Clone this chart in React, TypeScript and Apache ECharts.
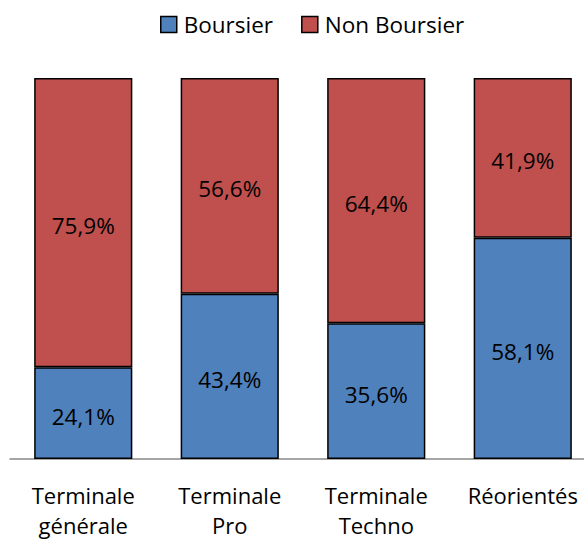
import React, { useEffect, useRef } from "react";
import * as echarts from "echarts";

const categories = ["Terminale\ngénérale", "Terminale\nPro", "Terminale\nTechno", "Réorientés"];
const boursier = [24.1, 43.4, 35.6, 58.1];
const nonBoursier = [75.9, 56.6, 64.4, 41.9];

const FONT = "'Open Sans', 'Noto Sans', sans-serif";

export default function App() {
  const ref = useRef<HTMLDivElement>(null);
  useEffect(() => {
    if (!ref.current) return;
    const chart = echarts.init(ref.current, null, { renderer: "svg" });
    const label = {
      show: true,
      position: "inside",
      offset: [0, 3],
      color: "#000",
      fontSize: 22.5,
      fontFamily: FONT,
      formatter: (p: any) => p.value.toFixed(1).replace(".", ",") + "%",
    };
    chart.setOption({
      animation: false,
      legend: {
        top: 8,
        left: 155,
        itemWidth: 16,
        itemHeight: 16,
        itemGap: 28,
        icon: "rect",
        itemStyle: { borderColor: "#000", borderWidth: 1.5 },
        textStyle: { fontSize: 22.5, fontFamily: FONT, color: "#000", padding: [0, 0, 0, 2] },
        data: ["Boursier", "Non Boursier"],
      },
      grid: { left: 10, top: 78, width: 586, height: 383, containLabel: false },
      xAxis: {
        type: "category",
        data: categories,
        axisLine: { lineStyle: { color: "#888", width: 1.5 } },
        axisTick: { show: false },
        axisLabel: {
          fontSize: 22,
          fontFamily: FONT,
          color: "#000",
          margin: 21,
          lineHeight: 30,
          interval: 0,
        },
      },
      yAxis: { type: "value", min: 0, max: 100, show: false },
      series: [
        {
          name: "Boursier",
          type: "bar",
          stack: "total",
          data: boursier,
          barWidth: "67%",
          itemStyle: { color: "#4F81BD", borderColor: "#000", borderWidth: 1.5 },
          label,
        },
        {
          name: "Non Boursier",
          type: "bar",
          stack: "total",
          data: nonBoursier,
          barWidth: "67%",
          itemStyle: { color: "#C0504D", borderColor: "#000", borderWidth: 1.5 },
          label,
        },
      ],
    });
    return () => chart.dispose();
  }, []);
  return (
    <div style={{ position: "fixed", top: 0, left: 0, width: 584, height: 540, overflow: "hidden", background: "#fff" }}>
      <div ref={ref} style={{ width: 600, height: 540 }} />
    </div>
  );
}
